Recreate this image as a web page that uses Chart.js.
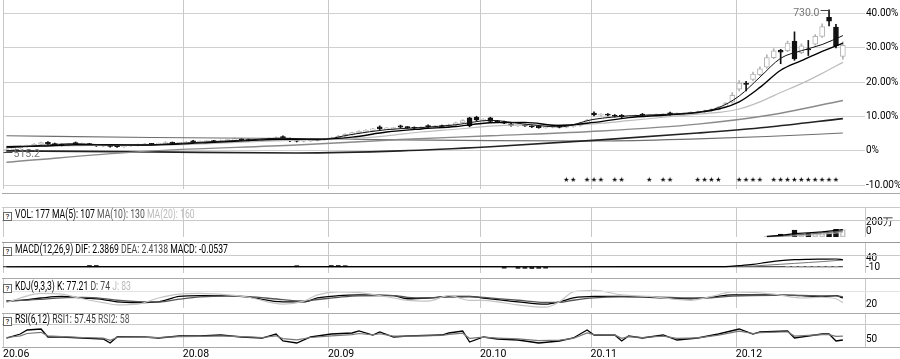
<!DOCTYPE html>
<html>
<head>
<meta charset="utf-8">
<script src="https://cdn.jsdelivr.net/npm/chart.js@4.4.1/dist/chart.umd.min.js"></script>
<style>
  body { margin: 0; background: #fff; }
  #wrap { position: relative; width: 900px; height: 359px; overflow: hidden; font-family: Roboto, sans-serif; }
  canvas { position: absolute; left: 0; }
  .hdr { position: absolute; left: 3px; height: 12px; line-height: 12px; font-size: 12px; white-space: nowrap; color: #000; z-index: 2; }
  .hdr .t { display: inline-block; transform: scaleX(0.72); transform-origin: 0 50%; }
  .q { display: inline-block; box-sizing: border-box; width: 9px; height: 9px; border: 1px solid #666; font-size: 8px; line-height: 7px; text-align: center; margin-right: 3px; vertical-align: -1px; background: #fff; }
  .hl { position: absolute; left: 2px; width: 898px; height: 0; border-top: 1px solid #c9c9c9; z-index: 1; }
</style>
</head>
<body>
<div id="wrap">
  <canvas id="main" width="900" height="196" style="top:0"></canvas>
  <canvas id="vol" width="900" height="37" style="top:207px"></canvas>
  <canvas id="macd" width="900" height="37" style="top:243px"></canvas>
  <canvas id="kdj" width="900" height="36" style="top:279px"></canvas>
  <canvas id="rsi" width="900" height="46" style="top:313px"></canvas>

  <div class="hl" style="top:193px;border-color:#aaa"></div>
  <div class="hl" style="top:207px"></div>
  <div class="hl" style="top:220px"></div>
  <div class="hl" style="top:242px;border-color:#999"></div>
  <div class="hl" style="top:255px"></div>
  <div class="hl" style="top:278px;border-color:#aaa"></div>
  <div class="hl" style="top:291px;border-color:#e2e2e2"></div>
  <div class="hl" style="top:313px;border-color:#aaa"></div>
  <div class="hl" style="top:324px"></div>
  <div class="hl" style="top:347px;border-color:#aaa"></div>

  <div class="hdr" style="top:208px"><span class="q">?</span><span class="t">VOL: 177 MA(5): 107 <span style="color:#555">MA(10): 130</span> <span style="color:#bbb">MA(20): 160</span></span></div>
  <div class="hdr" style="top:243px"><span class="q">?</span><span class="t">MACD(12,26,9) DIF: 2.3869 <span style="color:#444">DEA: 2.4138</span> MACD: -0.0537</span></div>
  <div class="hdr" style="top:280px"><span class="q">?</span><span class="t">KDJ(9,3,3) K: 77.21 <span style="color:#444">D: 74</span> <span style="color:#bbb">J: 83</span></span></div>
  <div class="hdr" style="top:313px"><span class="q">?</span><span class="t">RSI(6,12) <span style="color:#333">RSI1: 57.45</span> <span style="color:#555">RSI2: 58</span></span></div>
</div>

<script>
// trading-day index of each month label on the time axis
const monthIdx = [0, 26, 47, 69, 85, 106];
const monthLabels = ['20.06', '20.08', '20.09', '20.10', '20.11', '20.12'];

// daily candles, % change from the base price
const open = [
  0.1, 0.4, 0.9, 1.3, 1.5, 1.9, 2.5, 2.1, 1.9, 1.6,
  2.4, 1.9, 2.1, 1.8, 1.4, 1.6, 1.6, 1.2, 1.5, 1.6,
  1.8, 2.1, 1.9, 2.1, 2.5, 2.2, 2.3, 2.9, 2.5, 2.7,
  2.9, 2.7, 3.0, 3.2, 3.4, 3.3, 3.0, 3.2, 3.4, 3.6,
  4.2, 3.5, 3.0, 2.8, 2.9, 3.1, 3.3, 3.4, 3.8, 4.3,
  4.8, 5.3, 5.7, 6.0, 7.0, 6.4, 6.5, 7.3, 6.9, 6.8,
  6.6, 7.4, 7.0, 7.3, 7.1, 7.6, 8.2, 9.6, 9.8, 8.9,
  9.6, 8.7, 8.5, 7.9, 7.3, 7.6, 7.3, 7.2, 6.8, 6.9,
  7.1, 6.9, 7.1, 7.4, 8.0, 11.0, 10.4, 10.7, 10.4, 10.4,
  9.9, 10.1, 10.7, 10.3, 10.4, 10.5, 10.9, 10.7, 10.8, 11.0,
  11.1, 11.4, 11.7, 12.1, 12.8, 14.2, 18.0, 19.5, 20.8, 22.2,
  24.4, 27.2, 29.3, 29.2, 31.9, 28.6, 29.5, 31.1, 33.4, 38.9,
  36.1, 27.5
];
const close = [
  0.3, 0.9, 1.3, 1.5, 1.9, 2.4, 2.1, 1.8, 1.6, 1.9,
  2.0, 2.1, 1.8, 1.5, 1.6, 1.3, 1.2, 1.5, 1.6, 1.8,
  2.0, 1.9, 2.1, 2.4, 2.2, 2.3, 2.5, 2.5, 2.7, 2.8,
  2.7, 3.0, 3.2, 3.3, 3.2, 3.0, 3.2, 3.4, 3.6, 3.9,
  3.8, 2.9, 2.8, 2.9, 3.1, 3.3, 3.4, 3.8, 4.3, 4.8,
  5.3, 5.7, 6.0, 6.4, 6.4, 6.5, 6.6, 6.9, 6.8, 6.6,
  6.9, 7.0, 7.2, 7.1, 7.6, 8.2, 8.8, 7.3, 9.0, 9.1,
  8.6, 8.5, 8.1, 7.4, 7.5, 7.3, 7.0, 6.8, 6.9, 7.0,
  6.9, 7.1, 7.4, 8.0, 9.0, 10.5, 10.6, 10.4, 10.1, 9.9,
  10.1, 10.3, 10.4, 10.5, 10.6, 10.7, 10.8, 10.9, 11.0, 11.2,
  11.4, 11.7, 12.1, 12.8, 13.8, 16.2, 19.8, 19.4, 22.4, 23.9,
  27.2, 29.2, 28.8, 31.4, 26.8, 30.6, 29.4, 33.4, 36.2, 37.8,
  30.6, 30.8
];
const high = [
  0.6, 1.1, 1.5, 1.7, 2.1, 2.6, 2.7, 2.3, 2.0, 2.1,
  2.6, 2.3, 2.2, 1.9, 1.8, 1.7, 1.8, 1.7, 1.8, 2.0,
  2.2, 2.2, 2.3, 2.7, 2.6, 2.5, 2.7, 3.1, 2.9, 3.0,
  3.1, 3.2, 3.4, 3.8, 3.6, 3.5, 3.4, 3.6, 3.8, 4.1,
  4.4, 3.7, 3.1, 3.1, 3.3, 3.5, 3.6, 4.0, 4.5, 5.0,
  5.5, 5.9, 6.2, 6.6, 7.3, 6.8, 6.9, 7.5, 7.1, 7.0,
  7.1, 7.6, 7.4, 7.5, 7.8, 8.4, 9.1, 9.8, 10.1, 9.4,
  9.8, 8.9, 8.7, 8.1, 7.7, 7.8, 7.5, 7.4, 7.1, 7.2,
  7.3, 7.3, 7.6, 8.2, 9.2, 11.4, 10.9, 10.9, 10.6, 10.6,
  10.3, 10.5, 10.9, 10.7, 10.8, 10.9, 11.3, 11.1, 11.2, 11.4,
  11.6, 11.9, 12.3, 13.0, 14.1, 17.0, 20.5, 20.3, 23.0, 24.5,
  28.0, 29.8, 29.6, 32.0, 34.7, 31.2, 32.2, 33.9, 37.0, 41.1,
  36.9, 31.8
];
const low = [
  -0.3, 0.2, 0.7, 1.1, 1.3, 1.7, 1.9, 1.6, 1.4, 1.4,
  1.8, 1.7, 1.6, 1.3, 1.2, 1.1, 1.0, 1.0, 1.3, 1.4,
  1.6, 1.7, 1.7, 1.9, 2.0, 2.0, 2.1, 2.3, 2.3, 2.5,
  2.5, 2.5, 2.8, 3.0, 3.0, 2.8, 2.8, 3.0, 3.2, 3.4,
  3.6, 2.7, 2.6, 2.6, 2.7, 2.9, 3.1, 3.2, 3.6, 4.1,
  4.6, 5.1, 5.5, 5.8, 6.2, 6.2, 6.3, 6.7, 6.6, 6.4,
  6.4, 6.8, 6.8, 6.9, 6.9, 7.4, 8.0, 7.0, 8.8, 8.7,
  8.3, 8.3, 7.9, 7.2, 7.1, 7.1, 6.8, 6.6, 6.6, 6.7,
  6.7, 6.7, 6.9, 7.2, 7.8, 10.2, 10.2, 10.2, 9.9, 9.7,
  9.7, 9.9, 10.2, 10.1, 10.2, 10.3, 10.4, 10.5, 10.6, 10.8,
  10.9, 11.2, 11.5, 11.9, 12.6, 13.9, 17.5, 17.5, 20.5, 21.9,
  24.1, 26.9, 25.4, 28.9, 26.4, 28.3, 27.8, 30.8, 33.1, 36.4,
  30.0, 26.7
];
const hiLabel = '730.0';
const loLabel = '515.2';

// moving averages
const maIdx = [0, 5, 10, 15, 20, 25, 30, 35, 40, 45, 50, 55, 60, 65, 70, 75, 80, 85, 90, 95, 100, 103, 106, 109, 112, 115, 118, 121];
const ma5  = [0.9, 1.6, 2.1, 1.7, 1.7, 2.2, 2.7, 3.2, 3.7, 3.2, 4.8, 6.2, 6.8, 7.6, 8.9, 7.8, 7.0, 9.2, 10.2, 10.6, 11.3, 12.6, 16.0, 21.5, 27.0, 29.2, 31.0, 33.6];
const ma10 = [1.2, 1.4, 1.8, 1.8, 1.7, 2.0, 2.5, 3.0, 3.4, 3.4, 4.0, 5.5, 6.4, 7.1, 8.2, 8.3, 7.4, 8.3, 9.7, 10.4, 11.2, 12.2, 14.3, 18.5, 23.5, 26.3, 29.0, 31.4];
const ma20 = [1.3, 1.4, 1.5, 1.7, 1.7, 1.8, 2.2, 2.6, 3.0, 3.3, 3.6, 4.4, 5.5, 6.3, 7.2, 7.6, 7.6, 7.9, 8.8, 9.8, 10.7, 11.2, 12.2, 14.3, 17.0, 19.6, 22.6, 25.8];
const longIdx = [0, 21, 42, 57, 70, 86, 100, 110, 121];
const ma30  = [-3.3, 0.0, 1.7, 3.3, 4.4, 5.8, 7.8, 10.3, 14.7];
const ma60  = [0.0, -0.3, -0.6, 0.0, 1.2, 3.2, 5.2, 6.9, 9.4];
const ma120 = [4.4, 3.9, 3.6, 3.2, 3.0, 2.9, 3.5, 4.2, 5.2];

// signal stars under the candles
const starIdx = [81, 82, 84, 85, 86, 88, 89, 93, 95, 96, 100, 101, 102, 103, 106, 107, 108, 109, 111, 112, 113, 114, 115, 116, 117, 118, 119, 120];
const starY = -8.3;

// volume (万)
const volIdx = [110, 111, 112, 113, 114, 115, 116, 117, 118, 119, 120, 121];
const vol = [20, 35, 70, 60, 165, 80, 90, 110, 140, 100, 180, 177];
const volMaIdx = [110, 112, 114, 116, 118, 121];
const volMa5  = [15, 40, 80, 100, 120, 175];
const volMa10 = [8, 22, 50, 70, 95, 140];
const volMa20 = [4, 12, 28, 45, 65, 110];

// MACD
const macdIdx = [0, 20, 40, 60, 80, 100, 104, 106, 108, 110, 112, 114, 116, 118, 120, 121];
const dif = [0, 0.5, 0.5, 0.5, 0, 0.5, 1, 6, 13, 25, 35, 40, 42, 43, 44, 40];
const dea = [0, 0.3, 0.4, 0.4, 0.2, 0.3, 0.5, 2, 4, 9, 14, 19, 24, 29, 35, 38];
const histIdx = [12, 13, 42, 47, 48, 49, 72, 74, 75, 76, 77, 78, 113, 114, 115, 116, 117, 118, 119, 120];
const histVal = [7, 7, 6, 7, 7, 6, -8, -9, -9, -10, -9, -8, -6, -6, -6, -6, -6, -6, -6, -6];

// KDJ
const kdjIdx = [0, 2, 5, 8, 11, 14, 16, 19, 22, 25, 28, 32, 35, 40, 43, 45, 48, 51, 56, 58, 61, 64, 67, 69, 71, 74, 78, 80, 82, 85, 89, 93, 99, 102, 105, 111, 115, 118, 120, 121];
const kVal = [37.5, 41.7, 54.2, 62.5, 54.2, 45.8, 33.3, 29.2, 33.3, 62.5, 66.7, 66.7, 58.3, 33.3, 33.3, 54.2, 66.7, 70.8, 66.7, 50, 54.2, 62.5, 62.5, 54.2, 45.8, 33.3, 20.8, 33.3, 54.2, 62.5, 62.5, 58.3, 50, 58.3, 70.8, 70.8, 66.7, 62.5, 66.7, 54.2];
const dVal = [40, 41, 47, 55, 57, 51, 42, 35, 33, 48, 60, 65, 62, 45, 38, 46, 58, 66, 67, 58, 55, 59, 61, 58, 51, 42, 30, 30, 42, 55, 60, 60, 54, 55, 64, 69, 68, 66, 66, 60];
const jVal = [29.2, 54.2, 79.2, 75, 50, 29.2, 16.7, 20.8, 54.2, 75, 79.2, 70.8, 58.3, 20.8, 37.5, 70.8, 87.5, 83.3, 54.2, 41.7, 37.5, 66.7, 41.7, 41.7, 33.3, 16.7, 4.2, 33.3, 87.5, 95.8, 70.8, 62.5, 41.7, 62.5, 87.5, 75, 54.2, 58.3, 50, 29.2];

// RSI
const rsiIdx = [0, 2, 3, 5, 6, 8, 11, 14, 15, 16, 20, 22, 25, 28, 31, 34, 37, 39, 40, 42, 44, 47, 50, 51, 53, 54, 56, 58, 63, 64, 66, 67, 69, 71, 74, 77, 80, 82, 83, 84, 85, 88, 89, 90, 92, 95, 97, 100, 103, 106, 108, 109, 113, 114, 118, 119, 120, 121];
const rsi1 = [56.3, 70.2, 84.1, 87.6, 59.8, 59.8, 56.3, 52.8, 38.9, 59.8, 59.8, 56.3, 63.3, 63.3, 66.7, 59.8, 56.3, 70.2, 45.9, 38.9, 59.8, 70.2, 73.7, 80.7, 66.7, 77.2, 59.8, 63.3, 66.7, 73.7, 80.7, 42.4, 59.8, 52.8, 49.3, 38.9, 45.9, 56.3, 70.2, 84.1, 66.7, 66.7, 45.9, 63.3, 56.3, 66.7, 49.3, 56.3, 70.2, 87.6, 70.2, 77.2, 80.7, 56.3, 70.2, 70.2, 45.9, 49.3];
const rsi2 = [58, 64, 72, 76, 64, 61, 58, 56, 48, 58, 59, 58, 61, 62, 64, 61, 58, 64, 54, 50, 58, 64, 68, 72, 67, 71, 63, 63, 65, 69, 73, 55, 59, 56, 53, 47, 49, 55, 64, 74, 68, 67, 55, 61, 58, 63, 55, 57, 66, 80, 72, 75, 78, 63, 68, 68, 62, 63];

const FONT = 'Roboto, sans-serif';
const tickFont = { family: FONT, size: 10 };
Chart.defaults.animation = false;
Chart.defaults.font.family = FONT;
Chart.defaults.plugins.legend.display = false;
Chart.defaults.plugins.tooltip.enabled = false;

const up = close.map((c, i) => c >= open[i]);
const pts = (idx, vals) => idx.map((v, k) => ({ x: v, y: vals[k] }));
const line = (idx, vals, color, width, tension) => ({
  type: 'line', data: pts(idx, vals), borderColor: color, borderWidth: width,
  pointRadius: 0, tension: tension, cubicInterpolationMode: tension ? 'monotone' : 'default',
  fill: false, order: 0, clip: 4
});

// month lines run through the whole pane, header strip included
const monthLines = {
  id: 'monthLines',
  beforeDatasetsDraw(chart, args, opts) {
    const { ctx, chartArea, scales: { x } } = chart;
    ctx.save();
    ctx.lineWidth = 1;
    ctx.beginPath();
    x.ticks.forEach(t => {
      const px = Math.round(x.getPixelForValue(t.value)) + 0.5;
      ctx.moveTo(px, 0); ctx.lineTo(px, chartArea.bottom);
    });
    if (opts.rightEdge) {
      const px = Math.round(chartArea.right) + 0.5;
      ctx.moveTo(px, 0); ctx.lineTo(px, chartArea.bottom);
    }
    ctx.strokeStyle = '#c8c8c8';
    ctx.stroke();
    ctx.restore();
  }
};

function xScale(showLabels) {
  return {
    type: 'linear', min: -0.5, max: 124.2, offset: false,
    afterBuildTicks: s => { s.ticks = monthIdx.map(v => ({ value: v - 0.5 })); },
    afterFit: s => { s.height = showLabels ? 12 : 0; },
    grid: { display: false, drawTicks: false, offset: false },
    border: { display: false },
    ticks: {
      display: showLabels, autoSkip: false, maxRotation: 0, align: 'start', padding: 1,
      color: '#000', font: { family: FONT, size: 10.5 },
      callback: v => monthLabels[monthIdx.indexOf(v + 0.5)]
    }
  };
}
function yScale(min, max, vals, fmt, extra) {
  return Object.assign({
    position: 'right', min: min, max: max,
    afterBuildTicks: s => { s.ticks = vals.map(v => ({ value: v })); },
    afterFit: s => { s.width = 35; },
    grid: { display: false, drawTicks: false },
    border: { display: false },
    ticks: { color: '#000', font: tickFont, padding: 1, autoSkip: false, callback: fmt }
  }, extra || {});
}
function pane(id, datasets, y, showX, padTop, padBottom, rightEdge, extraPlugins) {
  return new Chart(document.getElementById(id), {
    type: 'bar',
    data: { datasets: datasets },
    options: {
      responsive: false,
      layout: { autoPadding: false, padding: { left: 3, right: 0, top: padTop, bottom: padBottom } },
      scales: { x: xScale(showX), y: y },
      plugins: { monthLines: { rightEdge: rightEdge } }
    },
    plugins: [monthLines].concat(extraPlugins || [])
  });
}

// star marker image
const starImg = document.createElement('canvas');
starImg.width = 7; starImg.height = 7;
const sc = starImg.getContext('2d');
sc.font = '7px "DejaVu Sans"'; sc.textAlign = 'center'; sc.textBaseline = 'middle';
sc.fillStyle = '#000'; sc.fillText('\u2605', 3.5, 3.8);

// labels for highest high / lowest low
const hiLo = {
  id: 'hiLo',
  afterDatasetsDraw(chart) {
    const { ctx, scales: { x, y } } = chart;
    const hi = high.indexOf(Math.max(...high));
    const lo = low.indexOf(Math.min(...low));
    ctx.save();
    ctx.strokeStyle = '#444'; ctx.fillStyle = '#777'; ctx.lineWidth = 1;
    ctx.font = '10.5px ' + FONT; ctx.textBaseline = 'middle';
    let px = Math.round(x.getPixelForValue(hi)) + 0.5, py = Math.round(y.getPixelForValue(high[hi])) + 0.5;
    ctx.beginPath(); ctx.moveTo(px, py); ctx.lineTo(px - 9, py); ctx.stroke();
    ctx.textAlign = 'right'; ctx.fillText(hiLabel, px - 10, py + 3);
    px = Math.round(x.getPixelForValue(lo)) + 0.5; py = Math.round(y.getPixelForValue(low[lo])) + 0.5;
    ctx.beginPath(); ctx.moveTo(px - 3, py); ctx.lineTo(px + 6, py); ctx.stroke();
    ctx.textAlign = 'left'; ctx.fillText(loLabel, px + 7, py + 2);
    ctx.restore();
  }
};

pane('main', [
  line(maIdx, ma5, '#111', 1, 0.4),
  line(maIdx, ma10, '#000', 1.4, 0.4),
  line(maIdx, ma20, '#bdbdbd', 1.2, 0.4),
  line(longIdx, ma30, '#8a8a8a', 1.4, 0.4),
  line(longIdx, ma60, '#222', 1.6, 0.4),
  line(longIdx, ma120, '#6e6e6e', 1.1, 0.4),
  { type: 'scatter', data: starIdx.map(i => ({ x: i, y: starY })), pointStyle: starImg, pointRadius: 3, order: 0 },
  { type: 'bar', data: close.map((c, i) => ({ x: i, y: [open[i], c] })),
    backgroundColor: up.map(u => u ? '#fff' : '#111'), borderColor: up.map(u => u ? '#b3b3b3' : '#111'),
    borderWidth: 1, borderSkipped: false, barThickness: 5, minBarLength: 1, grouped: false, order: 1 },
  { type: 'bar', data: close.map((c, i) => ({ x: i, y: [low[i], high[i]] })),
    backgroundColor: up.map(u => u ? '#b3b3b3' : '#111'), barThickness: 1, grouped: false, order: 2 }
], yScale(-11.11, 41.94, [-10, 0, 10, 20, 30, 40],
  v => v === 0 ? '0%' : v.toFixed(2) + '%',
  { grid: { display: true, color: '#d0d0d0', drawTicks: false } }),
  false, 2, 3, false, [hiLo]);

const volUp = volIdx.map(i => up[i]);
pane('vol', [
  line(volMaIdx, volMa5, '#000', 1.2, 0),
  line(volMaIdx, volMa10, '#666', 1, 0),
  line(volMaIdx, volMa20, '#bbb', 1, 0),
  { type: 'bar', data: pts(volIdx, vol),
    backgroundColor: volUp.map(u => u ? 'rgba(255,255,255,0)' : '#111'), borderColor: volUp.map(u => u ? '#c4c4c4' : '#111'),
    borderWidth: 1, borderSkipped: false, barThickness: 5, grouped: false, order: 1 }
], yScale(0, 400, [200, 0], null,
  { ticks: { color: '#000', font: tickFont, padding: 1, autoSkip: false, labelOffset: -6, callback: v => v === 0 ? '0' : v + '万' } }),
  false, 13, 2, true);

pane('macd', [
  line(macdIdx, dif, '#000', 1.2, 0.4),
  line(macdIdx, dea, '#777', 1, 0.4),
  { type: 'bar', data: pts(histIdx, histVal),
    backgroundColor: histIdx.map(i => i > 100 ? '#c8c8c8' : '#111'), barThickness: 4, grouped: false, order: 1 },
  { type: 'line', data: [{ x: -0.5, y: 0 }, { x: 121, y: 0 }], borderColor: '#222', borderWidth: 1, pointRadius: 0, order: 2 }
], yScale(-35.6, 66.7, [40, -10], v => String(v),
  { ticks: { color: '#000', font: tickFont, padding: 1, autoSkip: false, labelOffset: -1, callback: v => String(v) } }),
  false, 12, 2, true);

pane('kdj', [
  line(kdjIdx, jVal, '#c4c4c4', 1.2, 0.3),
  line(kdjIdx, dVal, '#555', 1.3, 0.3),
  line(kdjIdx, kVal, '#000', 1.3, 0.3)
], yScale(0, 92, [20], v => String(v)), false, 12, 2, true);

pane('rsi', [
  line(rsiIdx, rsi2, '#777', 1.2, 0),
  line(rsiIdx, rsi1, '#000', 1.3, 0)
], yScale(25, 105, [50], v => String(v)), true, 11, 0, true);
</script>
</body>
</html>
